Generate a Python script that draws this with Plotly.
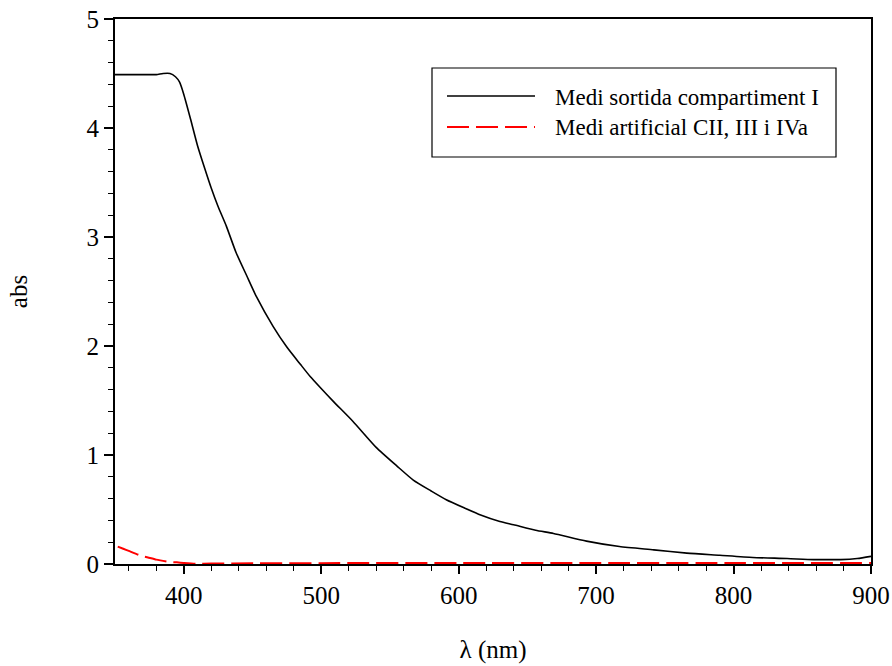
import plotly.graph_objects as go

# ---- data ----
wl_sortida = [350, 360, 370, 380, 385, 390, 394, 397, 400, 405, 410, 415, 420, 425, 431, 438, 446,
              453, 465, 475, 485, 492, 500, 509, 523, 540, 555, 567, 580, 591, 605, 616,
              630, 640, 656, 669, 693, 717, 742, 766, 790, 814, 839, 858, 870, 878, 890, 900]
abs_sortida = [4.49, 4.49, 4.49, 4.49, 4.50, 4.50, 4.47, 4.42, 4.31, 4.08, 3.84, 3.64, 3.45, 3.28, 3.10, 2.86, 2.64,
               2.45, 2.18, 1.99, 1.83, 1.72, 1.61, 1.49, 1.31, 1.07, 0.90, 0.77, 0.67, 0.59, 0.51, 0.45,
               0.39, 0.36, 0.31, 0.28, 0.21, 0.16, 0.13, 0.10, 0.08, 0.06, 0.05, 0.04, 0.04, 0.04, 0.05, 0.07]

wl_artificial = [352, 356, 360, 368, 374, 380, 389, 395, 400, 409, 420, 450, 500, 600, 700, 800, 900]
abs_artificial = [0.16, 0.14, 0.12, 0.08, 0.06, 0.04, 0.02, 0.015, 0.01, 0.003, 0.004, 0.006,
                  0.008, 0.01, 0.01, 0.01, 0.01]

series_names = ["Medi sortida compartiment I", "Medi artificial CII, III i IVa"]
x_title, y_title = "λ (nm)", "abs"
x_tick0, x_dtick, x_minor = 400, 100, 20
y_tick0, y_dtick, y_minor = 0, 1, 0.2

FONT = "Liberation Serif"
tickfont = dict(family=FONT, size=25, color="black")
titlefont = dict(family=FONT, size=25, color="black")

fig = go.Figure()
fig.add_trace(go.Scatter(x=wl_sortida, y=abs_sortida, mode="lines", name=series_names[0],
                         line=dict(color="black", width=1.6, shape="spline", smoothing=0.6)))
fig.add_trace(go.Scatter(x=wl_artificial, y=abs_artificial, mode="lines", name=series_names[1],
                         line=dict(color="red", width=2, dash="22px,7px", shape="spline", smoothing=0.5)))

fig.update_xaxes(range=[350, 900], tickmode="linear", tick0=x_tick0, dtick=x_dtick,
                 showgrid=False, zeroline=False, showline=True, linecolor="black", linewidth=2,
                 mirror=True, ticks="outside", tickcolor="black", tickwidth=1.5, ticklen=8,
                 tickfont=tickfont, title=dict(text=x_title, font=titlefont, standoff=32),
                 minor=dict(dtick=x_minor, ticks="outside", ticklen=5,
                            tickcolor="black", tickwidth=1.2))
fig.update_yaxes(range=[0, 5], tickmode="linear", tick0=y_tick0, dtick=y_dtick,
                 showgrid=False, zeroline=False, showline=True, linecolor="black", linewidth=2,
                 mirror=True, ticks="outside", tickcolor="black", tickwidth=1.5, ticklen=9,
                 tickfont=tickfont, title=dict(text=y_title, font=titlefont, standoff=52),
                 minor=dict(dtick=y_minor, ticks="outside", ticklen=5,
                            tickcolor="black", tickwidth=1.2))

L, R, T, B = 115, 21, 19, 102
W, H = 892, 666
pw, ph = W - L - R, H - T - B

def px(x):
    return (x - L) / pw

def py(y):
    return (H - B - y) / ph

# custom legend box
shapes = [
    dict(type="rect", xref="paper", yref="paper", x0=px(432), x1=px(836), y0=py(157), y1=py(68),
         line=dict(color="black", width=1.2), fillcolor="white", layer="above"),
    dict(type="line", xref="paper", yref="paper", x0=px(447), x1=px(535), y0=py(96), y1=py(96),
         line=dict(color="black", width=1.6)),
    dict(type="line", xref="paper", yref="paper", x0=px(447), x1=px(535), y0=py(127), y1=py(127),
         line=dict(color="red", width=2, dash="22px,7px")),
]
annotations = [
    dict(xref="paper", yref="paper", x=px(553), y=py(97), text=series_names[0], showarrow=False,
         xanchor="left", yanchor="middle", font=dict(family=FONT, size=23, color="black")),
    dict(xref="paper", yref="paper", x=px(553), y=py(128), text=series_names[1], showarrow=False,
         xanchor="left", yanchor="middle", font=dict(family=FONT, size=23, color="black")),
]

fig.update_layout(width=W, height=H, margin=dict(l=L, r=R, t=T, b=B, autoexpand=False),
                  paper_bgcolor="white", plot_bgcolor="white", showlegend=False,
                  shapes=shapes, annotations=annotations,
                  font=dict(family=FONT, size=25, color="black"))

fig.write_html("out.html")
